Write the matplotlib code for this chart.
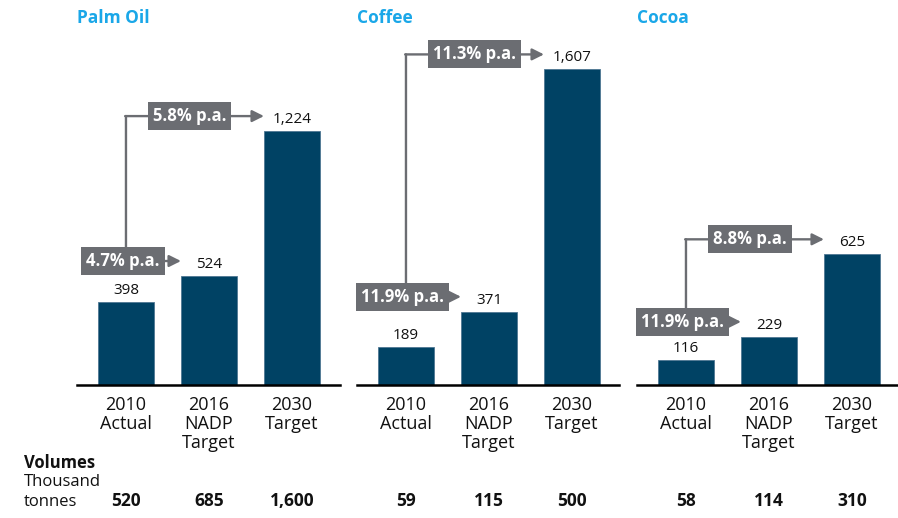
import matplotlib
matplotlib.use("Agg")
import matplotlib.pyplot as plt
from matplotlib import transforms

plt.rcParams['font.family'] = ['Open Sans', 'DejaVu Sans']

# ---- data ----
crops = ["Palm Oil", "Coffee", "Cocoa"]
stage_labels = ["2010\nActual", "2016\nNADP\nTarget", "2030\nTarget"]
palm_oil = [398, 524, 1224]
coffee = [189, 371, 1607]
cocoa = [116, 229, 625]
series = [palm_oil, coffee, cocoa]
growth_first = ["4.7% p.a.", "11.9% p.a.", "11.9% p.a."]
growth_second = ["5.8% p.a.", "11.3% p.a.", "8.8% p.a."]
volumes = [["520", "685", "1,600"], ["59", "115", "500"], ["58", "114", "310"]]

# ---- style ----
BAR = "#004264"
GREY = "#6b6d72"
TITLE = "#1aa7e8"
W, H, DPI = 898, 518, 100

fig = plt.figure(figsize=(W / DPI, H / DPI), dpi=DPI)

# panel boxes in pixels: (left, right); shared baseline and top
panel_x = [(77, 340), (357, 619), (637, 898)]
base_px, top_px = 384.5, 40
ymax = [1664, 1757, 1654]
bar_w = 0.675


def px_offset(ax, dx=0, dy=0):
    return transforms.offset_copy(ax.transData, fig=fig, x=dx, y=dy, units='dots')


for i, (name, vals) in enumerate(zip(crops, series)):
    l, r = panel_x[i]
    ax = fig.add_axes([l / W, (H - base_px) / H, (r - l) / W, (base_px - top_px) / H])
    x = [0, 1, 2]
    ax.bar(x, vals, width=bar_w, color=BAR, edgecolor="#4f7793", linewidth=0.6, zorder=2)
    ax.set_xlim(-0.59, (r - l) / 83 - 0.59)
    ax.set_ylim(0, ymax[i])
    for s in ["top", "left", "right"]:
        ax.spines[s].set_visible(False)
    ax.spines["bottom"].set_linewidth(1.8)
    ax.spines["bottom"].set_color("black")
    ax.set_yticks([])
    ax.set_xticks(x)
    ax.set_xticklabels(stage_labels, fontsize=13, linespacing=1.07, color="#111111")
    ax.tick_params(axis="x", length=0, pad=8)
    ax.patch.set_alpha(0)

    # value labels
    for xi, v in zip(x, vals):
        ax.text(xi, v, f"{v:,}", transform=px_offset(ax, 0, 8), ha="center",
                va="baseline", fontsize=11, color="#111111")

    # growth arrows
    y1, y2 = vals[1], vals[2]
    off = 15
    tr = px_offset(ax, 0, off)
    head = "-|>,head_length=0.7,head_width=0.35"
    # first leg: 2010 -> 2016
    ax.annotate("", xy=(1 - bar_w / 2, y1), xycoords=tr, xytext=(0, y1), textcoords=tr,
                arrowprops=dict(arrowstyle=head, color=GREY, lw=1.7,
                                shrinkA=0, shrinkB=0), zorder=3)
    # vertical riser from the first box to the second leg
    ax.annotate("", xy=(0, y2), xycoords=tr, xytext=(0, y1), textcoords=tr,
                arrowprops=dict(arrowstyle="-", color=GREY, lw=1.7,
                                shrinkA=0, shrinkB=0), zorder=3)
    # second leg: 2010 -> 2030
    ax.annotate("", xy=(2 - bar_w / 2, y2), xycoords=tr, xytext=(-0.01, y2), textcoords=tr,
                arrowprops=dict(arrowstyle=head, color=GREY, lw=1.7,
                                shrinkA=0, shrinkB=0), zorder=3)
    box = dict(boxstyle="square,pad=0.3", facecolor=GREY, edgecolor="none")
    ax.text(0, y1, growth_first[i], transform=px_offset(ax, -3, off), ha="center",
            va="center", fontsize=12, fontweight="bold", color="white", bbox=box, zorder=4)
    ax.text(0, y2, growth_second[i], transform=px_offset(ax, 27, off), ha="left",
            va="center", fontsize=12, fontweight="bold", color="white", bbox=box, zorder=4)

    # panel title
    fig.text(l / W, 1 - 23 / H, name, fontsize=12.5, fontweight="bold", color=TITLE,
             ha="left", va="baseline")

    # volumes row
    vt = transforms.blended_transform_factory(ax.transData, fig.transFigure)
    for xi, s in zip(x, volumes[i]):
        ax.text(xi, 1 - 506 / H, s, transform=vt, ha="center", va="baseline",
                fontsize=12.5, fontweight="bold", color="#111111", clip_on=False)

fig.text(24 / W, 1 - 468 / H, "Volumes", fontsize=12, fontweight="bold",
         color="#111111", ha="left", va="baseline")
fig.text(24 / W, 1 - 486 / H, "Thousand", fontsize=12, color="#111111",
         ha="left", va="baseline")
fig.text(24 / W, 1 - 506 / H, "tonnes", fontsize=12, color="#111111",
         ha="left", va="baseline")

fig.savefig("out.png", dpi=DPI, facecolor="white")
